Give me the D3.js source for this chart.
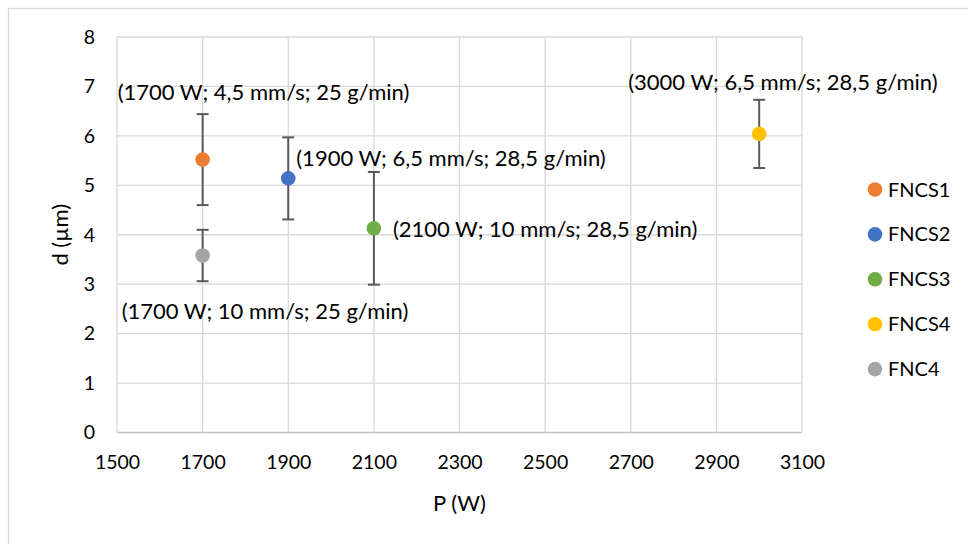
<!DOCTYPE html>
<html><head><meta charset="utf-8">
<script src="https://cdn.jsdelivr.net/npm/d3@7/dist/d3.min.js"></script>
<style>
html,body{margin:0;padding:0;background:#fff;}
svg{display:block;font-family:Lato,"Open Sans",sans-serif;}
</style></head>
<body>
<svg id="chart" width="968" height="544"></svg>
<script>
// ---- data ----
const seriesNames = ["FNCS1","FNCS2","FNCS3","FNCS4","FNC4"];
const powerW = [1700, 1900, 2100, 3000, 1700];
const diameter = [5.52, 5.14, 4.13, 6.04, 3.58];
const errorPlusMinus = [0.92, 0.83, 1.14, 0.69, 0.52];
const pointLabels = [
  "(1700 W; 4,5 mm/s; 25 g/min)",
  "(1900 W; 6,5 mm/s; 28,5 g/min)",
  "(2100 W; 10 mm/s; 28,5 g/min)",
  "(3000 W; 6,5 mm/s; 28,5 g/min)",
  "(1700 W; 10 mm/s; 25 g/min)"
];
const xTicks = [1500,1700,1900,2100,2300,2500,2700,2900,3100];
const yTicks = [0,1,2,3,4,5,6,7,8];
const xTitle = "P (W)";
const yTitle = "d (µm)";

// ---- styles / layout ----
const colors = ["#ED7D31","#4472C4","#70AD47","#FFC000","#A5A5A5"];
// label offsets in pixels relative to the marker (start-anchored, vertical centre)
const labelOffsets = [[-85,-67],[8,-20],[19,1],[-131,-52],[-81,56]];

const svg = d3.select("#chart");
const x = d3.scaleLinear().domain([1500,3100]).range([117,802]);
const y = d3.scaleLinear().domain([0,8]).range([432.5,37]);

// outer chart border
svg.append("rect").attr("x",8.5).attr("y",8.5).attr("width",1000).attr("height",600)
  .attr("fill","none").attr("stroke","#d9d9d9").attr("stroke-width",1.3);

// gridlines
const g = svg.append("g");
g.selectAll("line.h").data(yTicks).join("line")
  .attr("x1",x(1500)).attr("x2",x(3100))
  .attr("y1",d=>y(d)).attr("y2",d=>y(d))
  .attr("stroke",d=>d===0?"#bfbfbf":"#d9d9d9").attr("stroke-width",d=>d===0?1.6:1.3);
g.selectAll("line.v").data(xTicks).join("line")
  .attr("x1",d=>x(d)).attr("x2",d=>x(d))
  .attr("y1",y(0)).attr("y2",y(8))
  .attr("stroke","#d9d9d9").attr("stroke-width",1.3);

// axes (tick labels via d3 axes)
const xAxis = d3.axisBottom(x).tickValues(xTicks).tickSize(0).tickPadding(22).tickFormat(d3.format("d"));
const yAxis = d3.axisLeft(y).tickValues(yTicks).tickSize(0).tickPadding(22).tickFormat(d3.format("d"));
const xa = svg.append("g").attr("transform",`translate(0,${y(0)})`).call(xAxis);
const ya = svg.append("g").attr("transform",`translate(${x(1500)},0)`).call(yAxis);
[xa,ya].forEach(a=>{
  a.select(".domain").remove();
  a.selectAll("text").attr("font-family","Lato, sans-serif").attr("font-size",19.5).attr("fill","#000");
});
xa.selectAll("text").attr("dy","0.71em").attr("y",23);

// axis titles
svg.append("text").attr("x",(x(1500)+x(3100))/2).attr("y",511)
  .attr("text-anchor","middle").attr("font-size",22).attr("fill","#000").text(xTitle);
svg.append("text").attr("transform",`translate(68,${(y(0)+y(8))/2}) rotate(-90)`)
  .attr("text-anchor","middle").attr("font-size",22).attr("fill","#000").text(yTitle);

// data
const data = seriesNames.map((n,i)=>({name:n,p:powerW[i],d:diameter[i],e:errorPlusMinus[i],label:pointLabels[i],color:colors[i],off:labelOffsets[i]}));

const eg = svg.append("g").attr("stroke","#595959").attr("stroke-width",2);
data.forEach(d=>{
  const cx = x(d.p);
  eg.append("line").attr("x1",cx).attr("x2",cx).attr("y1",y(d.d-d.e)).attr("y2",y(d.d+d.e));
  [d.d-d.e,d.d+d.e].forEach(v=>{
    eg.append("line").attr("x1",cx-6).attr("x2",cx+6).attr("y1",y(v)).attr("y2",y(v));
  });
});
svg.append("g").selectAll("circle").data(data).join("circle")
  .attr("cx",d=>x(d.p)).attr("cy",d=>y(d.d)).attr("r",7.3).attr("fill",d=>d.color);

svg.append("g").selectAll("text").data(data).join("text")
  .attr("x",d=>x(d.p)+d.off[0]).attr("y",d=>y(d.d)+d.off[1])
  .attr("dy","0.35em").attr("font-size",22).attr("fill","#000").text(d=>d.label);

// legend
const lg = svg.append("g").selectAll("g").data(data).join("g")
  .attr("transform",(d,i)=>`translate(875,${189.5+i*44.9})`);
lg.append("circle").attr("r",7.3).attr("fill",d=>d.color);
lg.append("text").attr("x",13).attr("dy","0.35em").attr("font-size",20).attr("fill","#000").text(d=>d.name);
</script>
</body></html>
